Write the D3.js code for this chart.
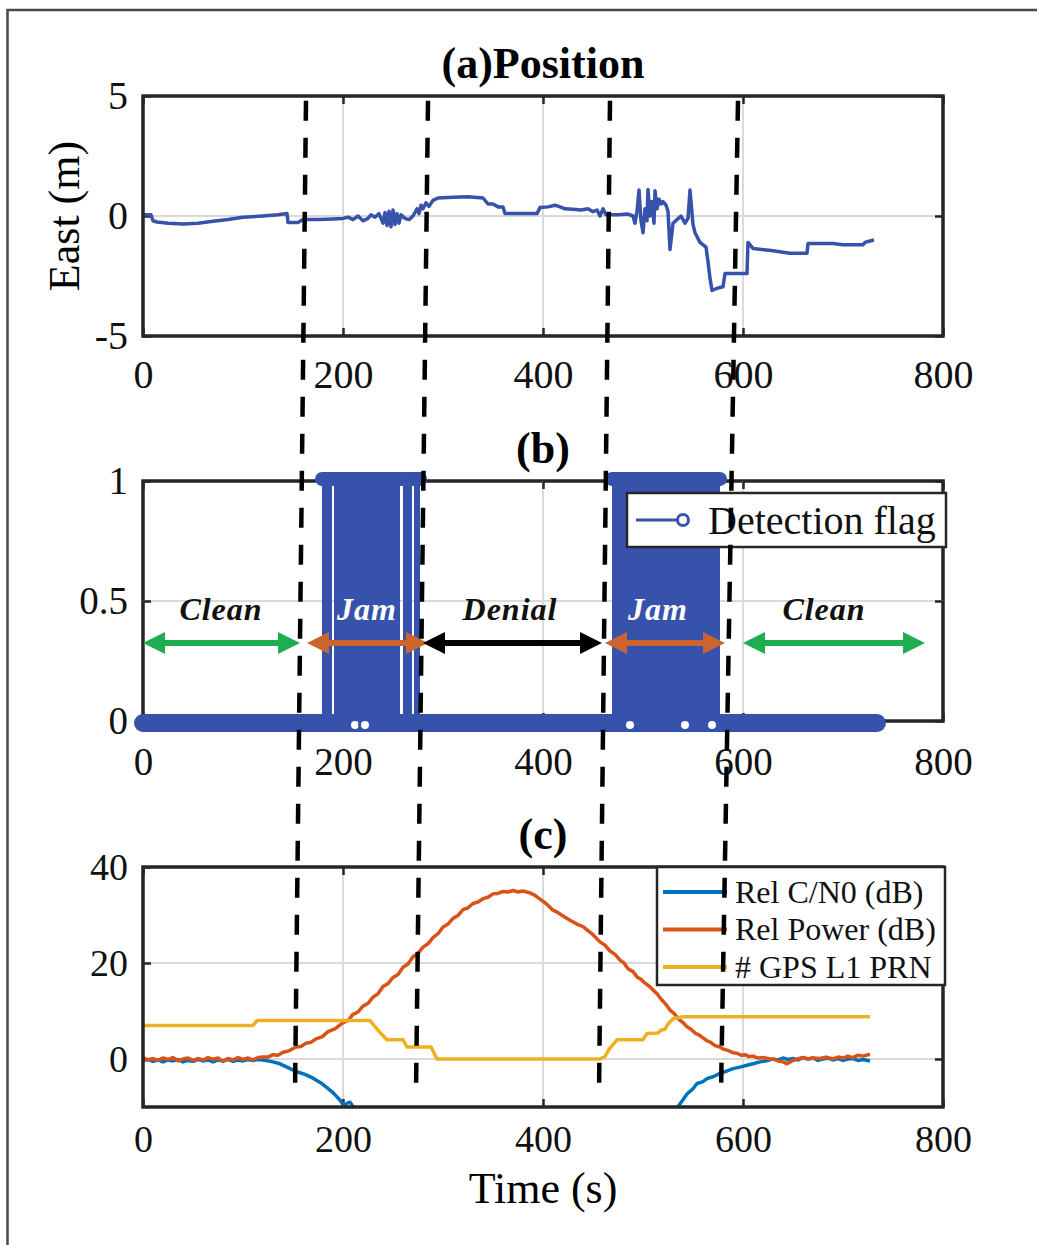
<!DOCTYPE html>
<html>
<head>
<meta charset="utf-8">
<script src="https://cdn.jsdelivr.net/npm/d3@7"></script>
<style>
  body { margin: 0; background: #fff; }
</style>
</head>
<body>
<div id="chart"></div>
<script>
// ---------- data ----------
const timeTicks = [0, 200, 400, 600, 800];
const eastTicks = [-5, 0, 5];
const flagTicks = [0, 0.5, 1];
const sigTicks = [0, 20, 40];

// (a) East position error, [time s, m]
const eastPosition = [
  [0,0.05],[8,0.05],[10,-0.2],[14,-0.25],[25,-0.3],[40,-0.33],[55,-0.3],[70,-0.22],[85,-0.15],
  [100,-0.05],[120,0.0],[135,0.05],[144,0.1],[145,-0.27],[155,-0.27],[160,-0.15],[175,-0.15],
  [190,-0.12],[200,-0.1],[205,-0.05],[210,-0.15],[215,0.0],[220,-0.2],[225,-0.1],[228,0.05],
  [232,-0.05],[236,0.1],[240,-0.3],[242,0.15],[244,-0.4],[246,0.2],[248,-0.45],[250,0.25],
  [252,-0.35],[254,0.1],[256,-0.3],[258,0.05],[262,-0.1],[266,-0.15],[270,0.0],[274,0.3],
  [276,0.1],[278,0.45],[280,0.3],[283,0.55],[286,0.4],[290,0.65],[295,0.75],[310,0.78],
  [325,0.8],[340,0.75],[345,0.5],[350,0.5],[355,0.38],[360,0.38],[362,0.1],[394,0.1],
  [397,0.35],[405,0.38],[412,0.45],[417,0.38],[422,0.3],[430,0.28],[438,0.25],[445,0.3],
  [450,0.18],[454,0.25],[457,0.0],[460,0.3],[463,0.05],[475,0.05],[485,0.08],[490,0.0],
  [492,-0.3],[494,0.2],[496,1.08],[498,-0.2],[500,-0.7],[502,0.3],[504,-0.2],[505,1.1],
  [507,0.0],[509,0.6],[511,-0.3],[512,1.05],[514,0.3],[516,0.7],[518,0.5],[520,0.6],
  [523,0.45],[525,0.2],[527,-1.4],[530,-0.3],[534,-0.15],[538,0.0],[542,-0.3],[545,-0.1],
  [547,1.08],[550,-0.35],[552,-0.7],[557,-1.1],[563,-1.3],[565,-1.9],[567,-2.6],[569,-3.1],
  [575,-3.0],[580,-2.95],[582,-2.4],[604,-2.4],[605,-1.1],[610,-1.35],[630,-1.45],[647,-1.55],
  [664,-1.55],[665,-1.15],[690,-1.15],[700,-1.2],[720,-1.2],[722,-1.1],[726,-1.05],[731,-1.0]
];

// (b) detection flag: logged span, windows where the flag toggles to 1, visible zero markers
const flagSpan = [0, 734];
const flagWindows = [[179,189],[191,257],[260,269],[271,277],[469,577]];
const flagMarkers = [212, 222, 487, 542, 569];

// (c) relative C/N0, relative power, number of GPS L1 PRNs
const relCN0 = [
  [0,-0.3],[5,-0.1],[10,-0.5],[15,-0.2],[20,-0.6],[25,-0.2],[30,-0.4],[35,-0.1],[40,-0.6],
  [45,-0.3],[50,-0.5],[55,-0.1],[60,-0.4],[65,-0.2],[70,-0.6],[75,-0.2],[80,-0.4],[85,-0.1],
  [90,-0.5],[95,-0.2],[100,-0.4],[105,-0.1],[110,-0.3],[115,-0.1],[120,-0.2],[130,-0.6],
  [137,-1.0],[145,-1.8],[153,-2.6],[162,-3.2],[170,-4.0],[178,-5.0],[183,-5.8],[190,-7.0],
  [194,-7.9],[198,-8.8],[200,-9.5],[202,-9.8],[204,-9.2],[207,-9.0],[209,-9.6],[211,-10.5],
  [214,-11.5],
  [530,null],
  [531,-11.5],[534,-10.2],[540,-8.5],[544,-7.3],[550,-6.2],[554,-5.1],[560,-4.7],[564,-4.1],
  [570,-3.7],[577,-3.0],[584,-2.5],[590,-2.0],[597,-1.7],[604,-1.3],[610,-1.0],[617,-0.6],
  [625,-0.3],[630,0.0],[635,-0.2],[640,0.2],[645,-0.1],[650,0.1],[655,-0.2],[660,0.3],
  [665,0.0],[670,0.2],[675,-0.3],[680,0.0],[685,0.2],[690,-0.2],[695,0.1],[700,-0.3],
  [705,0.0],[710,0.1],[715,-0.3],[720,-0.1],[727,-0.4]
];
const relPower = [
  [0,0.3],[5,-0.2],[10,0.1],[15,-0.3],[20,0.2],[25,-0.1],[30,0.3],[35,-0.4],[40,0.0],
  [45,0.2],[50,-0.3],[55,0.1],[60,-0.2],[65,0.3],[70,-0.1],[75,0.2],[80,-0.5],[85,0.1],
  [90,-0.2],[95,0.3],[100,-0.1],[105,0.2],[110,-0.2],[115,0.3],[120,0.4],[125,0.4],[130,0.9],
  [135,0.8],[140,1.4],[146,1.7],[153,2.5],[158,2.6],[163,3.3],[168,3.5],[173,4.2],[179,4.6],
  [185,5.7],[192,6.3],[200,7.6],[205,8.0],[210,9.3],[215,9.8],[220,11.0],[225,11.6],
  [230,12.9],[235,13.6],[240,15.1],[245,15.7],[250,17.0],[255,17.6],[260,19.1],[265,19.8],
  [270,21.3],[275,22.0],[280,23.3],[285,24.0],[290,25.3],[295,26.1],[300,27.5],[305,28.1],
  [310,29.3],[315,29.9],[320,31.1],[325,31.5],[330,32.4],[335,32.7],[340,33.4],[345,33.7],
  [350,34.4],[355,34.5],[360,34.9],[365,34.8],[370,35.1],[375,34.8],[380,35.0],[387,34.6],
  [392,34.1],[397,33.3],[403,32.4],[410,31.0],[415,30.5],[420,29.8],[427,28.9],[435,28.0],
  [440,27.6],[444,26.9],[450,25.9],[457,24.4],[462,23.7],[467,22.5],[472,21.8],[477,20.6],
  [481,20.0],[485,18.8],[490,18.2],[494,17.1],[498,16.6],[502,15.8],[506,15.2],[510,14.4],
  [514,13.6],[518,12.5],[522,11.6],[527,10.2],[531,9.5],[535,8.4],[540,7.6],[544,6.7],
  [548,6.2],[552,5.4],[556,5.0],[560,4.4],[564,3.8],[568,3.4],[572,2.8],[577,2.5],
  [581,2.0],[585,1.8],[590,1.3],[594,1.2],[598,0.8],[602,0.9],[606,0.5],[610,0.6],
  [615,0.2],[620,0.3],[627,0.0],[632,-0.1],[635,-0.4],[640,-0.6],[644,-1.0],[648,-0.5],
  [654,0.0],[660,0.3],[665,0.0],[670,0.2],[677,0.1],[683,0.4],[690,0.0],[695,0.4],
  [700,0.2],[705,0.6],[710,0.3],[715,0.8],[720,0.6],[727,1.0]
];
const gpsPrn = [
  [0,7],[110,7],[114,8],[227,8],[231,7],[235,6],[238,5.3],[244,4],[260,4],[264,2.5],
  [288,2.5],[294,0],[457,0],[462,0.5],[466,2],[470,3],[474,4],[500,4],[504,5.3],[515,5.4],
  [518,6],[522,6.2],[525,7.3],[530,8.4],[540,8.8],[727,8.8]
];

// phase separators (dashed), time at top of (a) and near bottom of (c)
const phaseLines = [[163,152],[285,273],[467,456],[595,578]];
// phase annotations in (b)
const phases = [
  {label: "Clean",  from: 0,   to: 157, at: 78,  color: "#1fae4f", text: "#111"},
  {label: "Jam",    from: 164, to: 285, at: 224, color: "#cc6430", text: "#fff"},
  {label: "Denial", from: 280, to: 459, at: 367, color: "#000",    text: "#111"},
  {label: "Jam",    from: 462, to: 582, at: 515, color: "#cc6430", text: "#fff"},
  {label: "Clean",  from: 600, to: 782, at: 681, color: "#1fae4f", text: "#111"}
];
const sigLegend = ["Rel C/N0 (dB)", "Rel Power (dB)", "# GPS L1 PRN"];

// ---------- layout ----------
const W = 1037, H = 1245;
const serif = '"Liberation Serif", "Times New Roman", Times, serif';
const ink = "#262626";
const flagBlue = "#3652ab";
const sigColors = ["#0072bd", "#d95319", "#edb120"];

const svg = d3.select("#chart").append("svg")
    .attr("width", W)
    .attr("height", H)
    .style("display", "block");

svg.append("rect")
    .attr("x", 7.5).attr("y", 10)
    .attr("width", W + 50).attr("height", H + 50)
    .style("fill", "#fff")
    .style("stroke", "#4a4a4a")
    .style("stroke-width", 2.5);

const x = d3.scaleLinear().domain([0, 800]).range([143, 943]);
const yEast = d3.scaleLinear().domain([-5, 5]).range([336, 96]);
const yFlag = d3.scaleLinear().domain([0, 1]).range([721, 481]);
const ySig = d3.scaleLinear().domain([-10, 40]).range([1107, 867]);

function styleAxis(sel, size){
    sel.select(".domain").remove();
    sel.selectAll(".tick line").style("stroke", ink).style("stroke-width", 2.5);
    sel.selectAll(".tick text")
        .style("font-family", serif)
        .style("font-size", size + "px")
        .style("fill", "#111");
}

function drawPanel(id, y, yTicks, yGrid, title, o){
    const [yb, yt] = y.range();
    const g = svg.append("g");

    g.append("defs").append("clipPath").attr("id", `clip-${id}`)
        .append("rect")
        .attr("x", x(0)).attr("y", yt)
        .attr("width", x(800) - x(0)).attr("height", yb - yt);

    // grid
    g.selectAll(".vgrid").data(timeTicks.slice(1, -1)).join("line")
        .attr("x1", d => x(d)).attr("x2", d => x(d))
        .attr("y1", yb).attr("y2", yt)
        .style("stroke", "#dadada").style("stroke-width", 2);
    g.selectAll(".hgrid").data(yGrid).join("line")
        .attr("x1", x(0)).attr("x2", x(800))
        .attr("y1", d => y(d)).attr("y2", d => y(d))
        .style("stroke", "#dadada").style("stroke-width", 2);

    // axes with inward ticks
    g.append("g").attr("transform", `translate(0,${yb})`)
        .call(d3.axisBottom(x).tickValues(timeTicks).tickFormat(d => String(d))
            .tickSizeInner(-8).tickSizeOuter(0).tickPadding(o.pad))
        .call(styleAxis, o.size);
    g.append("g").attr("transform", `translate(0,${yt})`)
        .call(d3.axisTop(x).tickValues(timeTicks).tickFormat(() => "")
            .tickSizeInner(-8).tickSizeOuter(0))
        .call(styleAxis, o.size);
    g.append("g").attr("transform", `translate(${x(0)},0)`)
        .call(d3.axisLeft(y).tickValues(yTicks).tickFormat(d => String(d))
            .tickSizeInner(-8).tickSizeOuter(0).tickPadding(15))
        .call(styleAxis, o.size);
    g.append("g").attr("transform", `translate(${x(800)},0)`)
        .call(d3.axisRight(y).tickValues(yTicks).tickFormat(() => "")
            .tickSizeInner(-8).tickSizeOuter(0))
        .call(styleAxis, o.size);

    g.append("text")
        .attr("x", x(400)).attr("y", yt - 18)
        .attr("text-anchor", "middle")
        .style("font-family", serif)
        .style("font-size", "44px")
        .style("font-weight", "bold")
        .text(title);

    const plot = g.append("g").attr("clip-path", `url(#clip-${id})`);
    const frame = g.append("rect")
        .attr("x", x(0)).attr("y", yt)
        .attr("width", x(800) - x(0)).attr("height", yb - yt)
        .style("fill", "none").style("stroke", ink).style("stroke-width", 3.5);
    return {g, plot, frame};
}

// ---------- (a) ----------
const pa = drawPanel("a", yEast, eastTicks, [0], "(a)Position", {size: 40, pad: 24});
pa.plot.append("path")
    .datum(eastPosition)
    .attr("d", d3.line().x(d => x(d[0])).y(d => yEast(d[1])))
    .style("fill", "none")
    .style("stroke", flagBlue)
    .style("stroke-width", 3.5)
    .style("stroke-linejoin", "round");
pa.frame.raise();

svg.append("text")
    .attr("transform", `translate(79,${yEast(0)}) rotate(-90)`)
    .attr("text-anchor", "middle")
    .style("font-family", serif)
    .style("font-size", "44px")
    .text("East (m)");

// ---------- (b) ----------
const pb = drawPanel("b", yFlag, flagTicks, [0.5], "(b)", {size: 39, pad: 26});
pb.frame.lower();
pb.g.select("clipPath").lower();
const flagLayer = pb.g.append("g");
flagLayer.append("line")
    .attr("x1", x(flagSpan[0])).attr("x2", x(flagSpan[1]))
    .attr("y1", yFlag(0) + 2).attr("y2", yFlag(0) + 2)
    .style("stroke", flagBlue).style("stroke-width", 18).style("stroke-linecap", "round");
flagLayer.selectAll(".win").data(flagWindows).join("rect")
    .attr("x", d => x(d[0])).attr("width", d => x(d[1]) - x(d[0]))
    .attr("y", yFlag(1)).attr("height", yFlag(0) - yFlag(1))
    .style("fill", flagBlue);
flagLayer.selectAll(".cap").data(flagWindows).join("line")
    .attr("x1", d => x(d[0])).attr("x2", d => x(d[1]))
    .attr("y1", yFlag(1) - 2).attr("y2", yFlag(1) - 2)
    .style("stroke", flagBlue).style("stroke-width", 14).style("stroke-linecap", "round");
flagLayer.selectAll(".mk").data(flagMarkers).join("circle")
    .attr("cx", d => x(d)).attr("cy", yFlag(0) + 4).attr("r", 5.5)
    .style("fill", "#fff").style("stroke", flagBlue).style("stroke-width", 3);

// phase arrows
function doubleArrow(g, x1, x2, yy, color){
    const head = 22, half = 11, lw = 6;
    g.append("line")
        .attr("x1", x1 + head - 2).attr("x2", x2 - head + 2)
        .attr("y1", yy).attr("y2", yy)
        .style("stroke", color).style("stroke-width", lw);
    g.append("path")
        .attr("d", `M${x1},${yy} L${x1 + head},${yy - half} L${x1 + head},${yy + half} Z`)
        .style("fill", color);
    g.append("path")
        .attr("d", `M${x2},${yy} L${x2 - head},${yy - half} L${x2 - head},${yy + half} Z`)
        .style("fill", color);
}
const phaseLayer = pb.g.append("g");
phases.forEach(p => {
    doubleArrow(phaseLayer, x(p.from), x(p.to), yFlag(0.325), p.color);
    phaseLayer.append("text")
        .attr("x", x(p.at)).attr("y", yFlag(0.42))
        .attr("text-anchor", "middle")
        .style("font-family", serif)
        .style("font-size", "32px")
        .style("font-weight", "bold")
        .style("font-style", "italic")
        .style("letter-spacing", "1px")
        .style("fill", p.text)
        .text(p.label);
});

// legend (b)
const lb = pb.g.append("g");
lb.append("rect")
    .attr("x", 627).attr("y", 493).attr("width", 319).attr("height", 54)
    .style("fill", "#fff").style("stroke", ink).style("stroke-width", 2.5);
lb.append("line")
    .attr("x1", 636).attr("x2", 683).attr("y1", 520).attr("y2", 520)
    .style("stroke", flagBlue).style("stroke-width", 3);
lb.append("circle")
    .attr("cx", 683).attr("cy", 520).attr("r", 5.5)
    .style("fill", "#fff").style("stroke", flagBlue).style("stroke-width", 3);
lb.append("text")
    .attr("x", 708).attr("y", 534)
    .style("font-family", serif).style("font-size", "40px").style("fill", "#111")
    .text("Detection flag");

// ---------- (c) ----------
const pc = drawPanel("c", ySig, sigTicks, [0, 20], "(c)", {size: 38, pad: 18});
const sigLine = d3.line()
    .defined(d => d[1] !== null)
    .x(d => x(d[0])).y(d => ySig(d[1]));
[relCN0, relPower, gpsPrn].forEach((s, i) => {
    pc.plot.append("path")
        .datum(s)
        .attr("d", sigLine)
        .style("fill", "none")
        .style("stroke", sigColors[i])
        .style("stroke-width", 3.5)
        .style("stroke-linejoin", "round");
});
pc.frame.raise();

const lc = pc.g.append("g");
lc.append("rect")
    .attr("x", 657).attr("y", 867).attr("width", 288).attr("height", 118)
    .style("fill", "#fff").style("stroke", ink).style("stroke-width", 2.5);
sigLegend.forEach((name, i) => {
    const yy = 892 + i * 37.5;
    lc.append("line")
        .attr("x1", 663).attr("x2", 727).attr("y1", yy).attr("y2", yy)
        .style("stroke", sigColors[i]).style("stroke-width", 4);
    lc.append("text")
        .attr("x", 735).attr("y", yy).attr("dy", "0.34em")
        .style("font-family", serif).style("font-size", "32px").style("fill", "#111")
        .text(name);
});

svg.append("text")
    .attr("x", x(400)).attr("y", 1203)
    .attr("text-anchor", "middle")
    .style("font-family", serif)
    .style("font-size", "44px")
    .text("Time (s)");

// ---------- phase separators across all panels ----------
svg.append("g").selectAll("line").data(phaseLines).join("line")
    .attr("x1", d => x(d[0])).attr("y1", yEast(4.8))
    .attr("x2", d => x(d[1])).attr("y2", ySig(-7))
    .style("stroke", "#000")
    .style("stroke-width", 4.5)
    .style("stroke-dasharray", "20,17");
</script>
</body>
</html>
